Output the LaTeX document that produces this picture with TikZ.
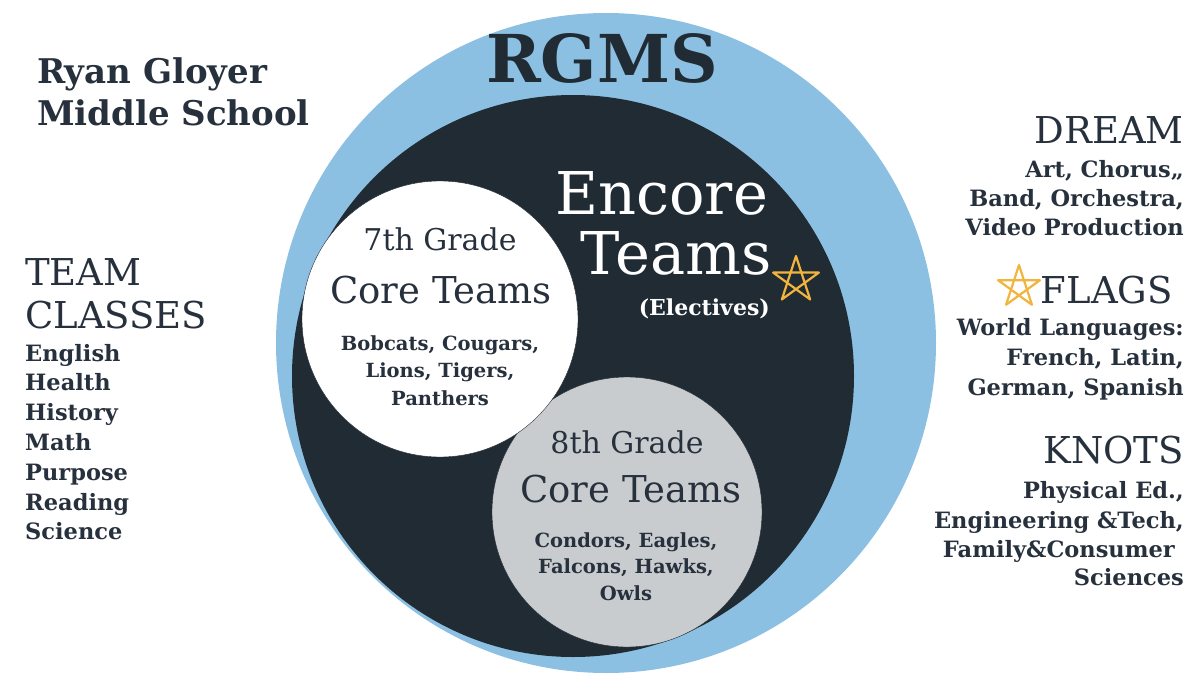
\documentclass[tikz,border=0pt]{standalone}
\usepackage{fontspec}
\setmainfont{DejaVu Serif}
\definecolor{rgblue}{HTML}{8CC0E3}
\definecolor{rgnavy}{HTML}{212B34}
\definecolor{rggrey}{HTML}{C9CCCF}
\definecolor{rgink}{HTML}{27313D}
\definecolor{rgstar}{HTML}{F1B43C}
\begin{document}
\begin{tikzpicture}[x=1pt, y=-1pt, line join=round, line cap=round,
	every node/.style={inner sep=0pt, text=rgink},
	head/.style={font=\fontsize{37}{37}\selectfont},
	item/.style={font=\bfseries\fontsize{22.5}{22.5}\selectfont},
	team/.style={font=\bfseries\fontsize{19.5}{19.5}\selectfont, anchor=base}]
	\useasboundingbox (0,0) rectangle (1200,675);
	\path 
	(606,343) coordinate (O)
	(573,376) coordinate (E)
	(440,319) coordinate (S)
	(627,512) coordinate (G)
	;
	\fill[rgblue] (O) circle (330);
	\fill[rgnavy] (E) circle (281);
	\filldraw[fill=rggrey, draw=rgnavy] (G) circle (135);
	\filldraw[fill=white, draw=rgnavy] (S) circle (138);
	\node[font=\bfseries\fontsize{66}{66}\selectfont, text=rgnavy, anchor=base] (rgms) at (602,82) {RGMS};
	\node[font=\fontsize{59}{59}\selectfont, text=white, anchor=base west] (encore) at (555,214) {Encore};
	\node[font=\fontsize{59}{59}\selectfont, text=white, anchor=base east] (teams) at (772,274) {Teams};
	\node[font=\bfseries\fontsize{22}{22}\selectfont, text=white, anchor=base east] (elect) at (770,315) {(Electives)};
	\node[font=\fontsize{30}{30}\selectfont, anchor=base] (grade7) at (440,250) {7th Grade};
	\node[font=\fontsize{37}{37}\selectfont, anchor=base] (core7) at (441,303) {Core Teams};
	\foreach \t/\y [count=\i] in {{Bobcats, Cougars,}/350, {Lions, Tigers,}/377, Panthers/405}
		\node[team] (seven\i) at (440,\y) {\t};
	\node[font=\fontsize{30}{30}\selectfont, anchor=base] (grade8) at (627,453) {8th Grade};
	\node[font=\fontsize{37}{37}\selectfont, anchor=base] (core8) at (631,502) {Core Teams};
	\foreach \t/\y [count=\i] in {{Condors, Eagles,}/547, {Falcons, Hawks,}/573, Owls/600}
		\node[team] (eight\i) at (626,\y) {\t};
	\node[head, font=\bfseries\fontsize{34}{34}\selectfont, anchor=base west] (ryan) at (37,83) {Ryan Gloyer};
	\node[head, font=\bfseries\fontsize{34}{34}\selectfont, anchor=base west] (middle) at (37,125) {Middle School};
	\node[head, anchor=base west] (team) at (25,285) {TEAM};
	\node[head, anchor=base west] (classes) at (25,328) {CLASSES};
	\foreach \t [count=\i from 0] in {English, Health, History, Math, Purpose, Reading, Science}
		\node[item, anchor=base west] (class\i) at (25,{361+29.8*\i}) {\t};
	\node[head, anchor=base east] (dream) at (1184,143) {DREAM};
	\node[head, anchor=base east] (flags) at (1173,303) {FLAGS};
	\node[head, anchor=base east] (knots) at (1184,463) {KNOTS};
	\foreach \t/\x/\y [count=\i] in {{Art, Chorus,,}/1184/177, {Band, Orchestra,}/1184/206, {Video Production}/1184/235,
		{World Languages:}/1184/335, {French, Latin,}/1184/365, {German, Spanish}/1184/395,
		{Physical Ed.,}/1184/498, {Engineering \&Tech,}/1184/528, {Family\&Consumer}/1175/557, Sciences/1184/585}
		\node[item, anchor=base east] (elective\i) at (\x,\y) {\t};
	\foreach \x/\y/\r in {796/280/24, 1019/287/22}
		\draw[rgstar, line width=2.2pt, shift={(\x,\y)}] (-90:\r) -- (54:\r) -- (198:\r) -- (-18:\r) -- (126:\r) -- cycle;
\end{tikzpicture}
\end{document}
